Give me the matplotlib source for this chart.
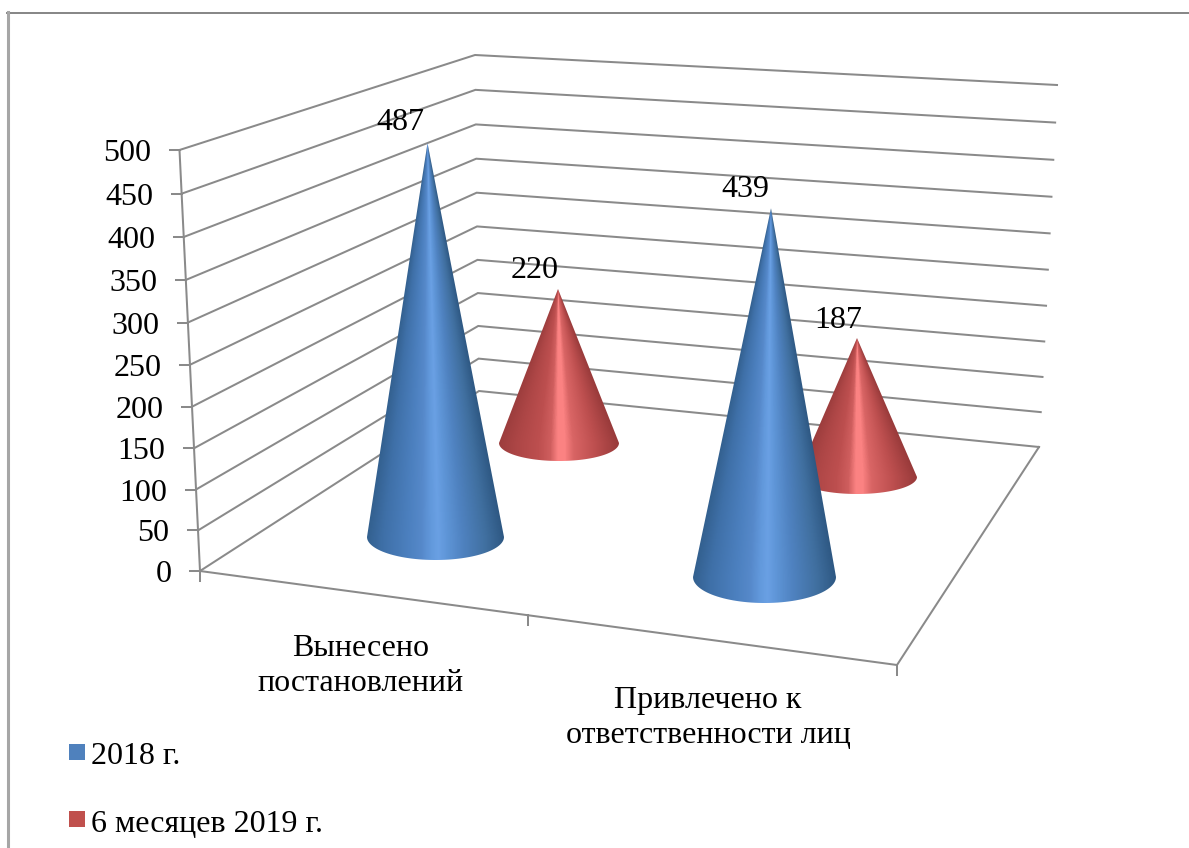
import numpy as np
import matplotlib
matplotlib.use("Agg")
import matplotlib.pyplot as plt
from matplotlib.colors import LinearSegmentedColormap
from matplotlib.patches import Polygon, Rectangle

plt.rcParams['font.family'] = ['Liberation Serif', 'DejaVu Serif']

categories = ["Вынесено\nпостановлений", "Привлечено к\nответственности лиц"]
series_names = ["2018 г.", "6 месяцев 2019 г."]
values_2018 = [487, 439]
values_2019 = [220, 187]
axis_ticks = [0, 50, 100, 150, 200, 250, 300, 350, 400, 450, 500]

W, H = 1189, 848
FS = 23
fig = plt.figure(figsize=(W / 100, H / 100), dpi=100)
ax = fig.add_axes([0, 0, 1, 1])
ax.set_xlim(0, W)
ax.set_ylim(H, 0)
ax.axis("off")

GRID = "#8a8a8a"
LW = 1.45
FL = ((200, 571), (179.5, 150))
BL = ((479, 391), (475, 55))
BR = ((1039, 447), (1057, 85))
FR = (897, 665)
K = 0.96


def vscale(v):
    t = v / 500.0
    return t * K / (1 + (K - 1) * t)


def wall(edge, v):
    s = vscale(v)
    return (edge[0][0] + (edge[1][0] - edge[0][0]) * s,
            edge[0][1] + (edge[1][1] - edge[0][1]) * s)


# frame: top and left edges only, the right edge lies outside the picture
ax.plot([W, 7], [12.5, 12.5], color="#858585", lw=1.4, zorder=1)
ax.plot([7.5, 7.5], [12, H], color="#a6a6a6", lw=2.2, zorder=1)

# grid and axes
for v in axis_ticks:
    a, b, c = wall(FL, v), wall(BL, v), wall(BR, v)
    ax.plot([a[0], b[0], c[0]], [a[1], b[1], c[1]], color=GRID, lw=LW, zorder=2,
            solid_joinstyle="miter")
    ax.plot([a[0] - 10, a[0]], [a[1], a[1]], color=GRID, lw=LW, zorder=2)
    ax.text(a[0] - 28.5, a[1] + 11, str(v), ha="right", va="baseline", fontsize=FS, color="black", zorder=6)
ax.plot([FL[0][0], FL[1][0]], [FL[0][1], FL[1][1]], color=GRID, lw=LW, zorder=2)
ax.plot([FL[0][0], FR[0], BR[0][0]], [FL[0][1], FR[1], BR[0][1]], color=GRID, lw=LW, zorder=2)
for f in (0, 0.4706, 1):
    x = FL[0][0] + (FR[0] - FL[0][0]) * f
    y = FL[0][1] + (FR[1] - FL[0][1]) * f
    ax.plot([x, x], [y, y + 10], color=GRID, lw=LW, zorder=2)

blue = LinearSegmentedColormap.from_list("b", [
    (0, "#33608f"), (.12, "#3f70a8"), (.3, "#4c80bf"), (.4, "#5689ca"), (.47, "#6299dc"),
    (.52, "#6aa0e4"), (.58, "#5f96d8"), (.7, "#4f82c0"), (.87, "#406f9f"), (1, "#2e5883")])
red = LinearSegmentedColormap.from_list("r", [
    (0, "#9c3d3d"), (.15, "#ad4646"), (.33, "#bd4f4f"), (.43, "#cf5e5e"), (.49, "#fb8282"),
    (.55, "#fb8282"), (.62, "#d96565"), (.8, "#bd4f4f"), (1, "#983a3a")])


def cone(value, cx, cy, a, b, scale, tipdx, cmap, z):
    tip = (cx + tipdx, cy - value * scale)
    th = np.linspace(np.pi, 0, 60)
    pts = [tip] + list(zip(cx + a * np.cos(th), cy + b * np.sin(th)))
    x0, x1 = int(cx - a - 2), int(cx + a + 3)
    y0, y1 = int(tip[1] - 1), int(cy + b + 3)
    xs, ys = np.meshgrid(np.arange(x0, x1) + .5, np.arange(y0, y1) + .5)
    f = np.clip((ys - tip[1]) / (cy - tip[1]), 1e-3, 1)
    axisx = tip[0] + (cx - tip[0]) * f
    u = np.clip((xs - axisx) / (a * f) * .5 + .5, 0, 1)
    im = ax.imshow(u, cmap=cmap, vmin=0, vmax=1, extent=(x0, x1, y1, y0),
                   interpolation="bilinear", zorder=z, aspect="auto")
    poly = Polygon(pts, closed=True, transform=ax.transData, fc="none", ec="none")
    ax.add_patch(poly)
    im.set_clip_path(poly)
    return tip


# layout of the four cones: centre x, centre y, half width, ellipse b, px per unit, tip shift
layout_2018 = [(435.5, 537, 68.5, 23, .809, -8), (764.5, 577, 71.5, 26, .84, 6.5)]
layout_2019 = [(559, 443, 60, 18, .70, -1), (857, 477, 60, 17, .743, 0)]
label_shift_2018 = [(-27, -13), (-26, -11)]
label_shift_2019 = [(-23, -11), (-19, -10)]

order = [(values_2019, layout_2019, red, label_shift_2019, 3),
         (values_2018, layout_2018, blue, label_shift_2018, 4)]
for vals, lay, cmap, shift, z in order:
    for v, l, sh in zip(vals, lay, shift):
        tip = cone(v, *l, cmap, z)
        ax.text(tip[0] + sh[0], tip[1] + sh[1], str(v), ha="center", va="baseline",
                fontsize=FS, color="black", zorder=6)

# category labels
ax.text(361, 666, categories[0], ha="center", va="center", fontsize=FS, linespacing=1.24, color="black")
ax.text(708, 718, categories[1], ha="center", va="center", fontsize=FS, linespacing=1.24, color="black")

# legend
for name, col, y, base in zip(series_names, ["#4f81bd", "#c0504d"], [752, 819], [764, 832]):
    ax.add_patch(Rectangle((69, y - 8), 16, 16, fc=col, ec="none", zorder=5))
    ax.text(91, base, name, ha="left", va="baseline", fontsize=FS, color="black")

fig.savefig("out.png", dpi=100, facecolor="white")
